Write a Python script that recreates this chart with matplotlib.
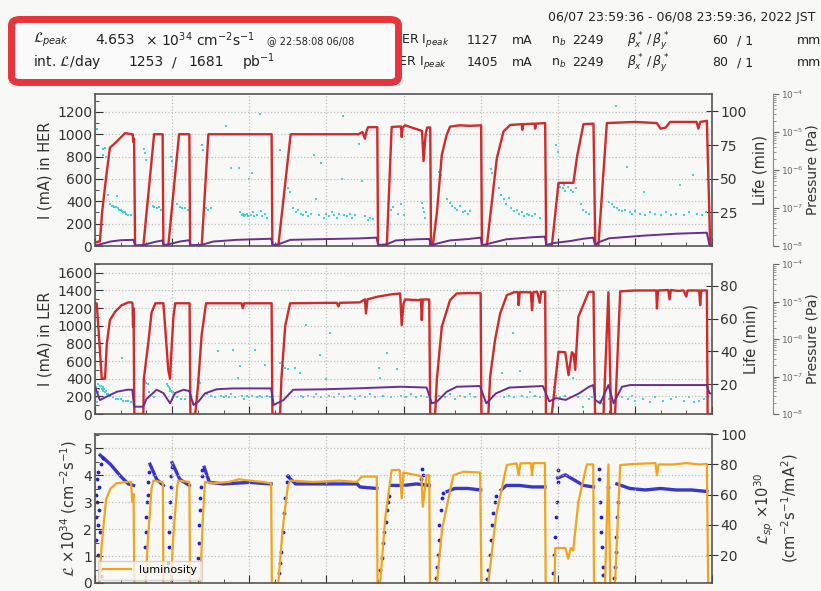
import matplotlib
matplotlib.use('Agg')
import matplotlib.pyplot as plt
import numpy as np
from matplotlib.patches import FancyBboxPatch
from matplotlib.ticker import MultipleLocator, LogLocator, NullFormatter

W, H = 821, 591
BG = '#f8f8f6'
RED = '#d12a2a'
PURPLE = '#6b2d8e'
CYAN = '#3fd2da'
BLUE = '#2222c8'
ORANGE = '#f2a41c'

# ---- HER current (hours, mA)
her_t = [0.0, 0.15, 0.19, 0.28, 0.43, 0.58, 0.78, 1.04, 1.17, 1.43, 1.47, 1.49, 1.52, 1.56,
         1.88, 2.30, 2.63, 2.66, 2.85, 3.27, 3.67, 3.70, 4.15, 4.41, 6.87, 6.90,
         7.13, 7.61, 10.25, 10.40, 10.50, 10.55, 10.62, 10.98, 11.01,
         11.35, 11.54, 11.90, 11.93, 11.97, 12.06, 12.58, 12.72, 12.78, 12.86, 12.92, 13.04, 13.07,
         13.14, 13.30, 13.49, 13.68, 13.81, 14.2, 14.6, 15.02, 15.05,
         15.24, 15.44, 15.63, 15.89, 16.15, 16.6, 16.62, 16.66, 17.1, 17.12, 17.16, 17.51, 17.55,
         17.77, 18.03, 18.61, 18.75, 19.0, 19.39, 19.46,
         19.58, 19.91, 21.0, 21.85, 22.0, 22.2, 22.37, 23.4, 23.47, 23.54, 23.8, 23.93, 24.0]
her_i = [30, 40, 40, 310, 610, 880, 920, 980, 1010, 1000, 1000, 930, 960, 0,
         0, 1000, 1000, 0, 0, 1000, 1000, 0, 0, 1000, 1000, 0,
         0, 1000, 1000, 1020, 960, 1020, 1063, 1063, 0,
         0, 1065, 1070, 975, 1060, 1080, 1040, 1030, 760, 1000, 1060, 1060, 0,
         0, 300, 815, 995, 1068, 1080, 1075, 1080, 0,
         0, 400, 785, 1025, 1083, 1090, 1040, 1090, 1095, 1050, 1095, 1100, 0,
         0, 565, 565, 800, 1090, 1095, 0,
         0, 1100, 1110, 1100, 1050, 1060, 1110, 1110, 1050, 1110, 1120, 0, 0]

her_p_t = [0.0, 0.2, 0.6, 1.0, 1.5, 1.56, 1.9, 2.3, 2.63, 2.68, 2.85, 3.3, 3.67, 3.72, 4.15, 4.6, 5.5, 6.85, 6.92,
           7.13, 7.6, 9.0, 10.3, 10.95, 11.02, 11.35, 11.7, 12.5, 13.0, 13.08,
           13.2, 13.8, 14.5, 15.0, 15.06, 15.3, 16.0, 17.0, 17.5, 17.56, 17.8, 18.5, 19.0, 19.38, 19.45,
           19.6, 20.0, 21.3, 22.6, 23.8, 23.9, 24.0]
her_p = [5, 15, 40, 52, 55, 5, 10, 35, 50, 8, 15, 40, 52, 8, 10, 40, 55, 65, 8,
         15, 55, 62, 68, 75, 9, 15, 50, 60, 63, 5,
         15, 50, 62, 75, 8, 20, 60, 78, 84, 8, 25, 45, 65, 75, 9,
         35, 69, 92, 110, 119, 10, 10]

# HER lifetime points (hours, min)
her_c_t = [0.08, 0.3, 0.33, 0.38, 0.42, 0.5, 0.6, 0.65, 0.7, 0.75, 0.8, 0.85, 0.9, 0.95, 1.0, 1.05, 1.1, 1.15, 1.2, 1.3, 1.4,
           1.92, 1.95, 2.0, 2.25, 2.3, 2.4, 2.5, 2.55,
           2.95, 3.0, 3.1, 3.2, 3.3, 3.4, 3.5, 3.6,
           4.15, 4.2, 4.3, 4.4, 4.5,
           5.1, 5.3, 5.6, 5.65, 5.7, 5.75, 5.8, 5.85, 5.9, 5.95, 6.0, 6.05, 6.1, 6.15, 6.2, 6.3, 6.4, 6.45, 6.5, 6.6, 6.7,
           7.2, 7.5, 7.6, 7.7, 7.8, 7.9, 8.0, 8.1, 8.2, 8.3, 8.4, 8.5, 8.6, 8.7, 8.8, 8.9, 9.0, 9.1, 9.2, 9.3, 9.4, 9.5,
           9.6, 9.66, 9.7, 9.8, 9.9, 10.0, 10.1, 10.25, 10.38, 10.5, 10.6, 10.7, 10.8,
           11.4, 11.5, 11.6, 11.8, 11.9, 12.0, 12.72, 12.75, 12.8, 12.85,
           13.4, 13.45, 13.7, 13.8, 13.9, 14.0, 14.1, 14.2, 14.3, 14.4, 14.5, 14.6,
           15.4, 15.45, 15.7, 15.8, 15.9, 16.0, 16.1, 16.2, 16.3, 16.4, 16.5, 16.6, 16.7, 16.8, 16.9, 17.0, 17.1, 17.3,
           17.95, 18.0, 18.05, 18.1, 18.15, 18.2, 18.25, 18.3, 18.4, 18.5, 18.6, 18.7,
           18.9, 19.0, 19.1, 19.2,
           20.0, 20.1, 20.2, 20.25, 20.3, 20.4, 20.5, 20.6, 20.69, 20.8, 20.9, 21.0, 21.2, 21.34, 21.4, 21.6,
           21.8, 22.0, 22.2, 22.4, 22.6, 22.76, 22.9, 23.1, 23.28, 23.4, 23.6, 23.75]
her_c_v = [87, 72, 68, 73, 66, 38, 31, 30, 30, 29, 29, 37, 28, 27, 27, 26, 25, 25, 24, 23, 23,
           72, 69, 64, 30, 29, 28, 29, 27,
           66, 63, 54, 31, 29, 28, 28, 27,
           75, 71, 28, 27, 28,
           89, 58, 58, 25, 23, 24, 22, 23, 24, 22, 50, 23, 54, 25, 22, 23, 98, 26, 22, 24, 21,
           71, 43, 40, 28, 25, 27, 24, 23, 25, 22, 24, 68, 35, 23, 62, 21, 24, 22, 25, 23, 21, 24,
           50, 97, 23, 22, 24, 21, 23, 76, 48, 22, 19, 21, 20,
           31, 27, 29, 24, 31, 23, 32, 28, 25, 21,
           55, 53, 35, 32, 30, 28, 27, 30, 25, 26, 24, 26,
           57, 54, 43, 38, 35, 31, 36, 28, 26, 27, 24, 25, 22, 24, 23, 22, 24, 21,
           75, 70, 46, 44, 47, 43, 45, 41, 44, 42, 40, 43,
           31, 27, 25, 24,
           33, 31, 29, 104, 28, 27, 26, 27, 59, 25, 24, 26, 24, 40, 23, 25,
           24, 23, 25, 23, 24, 45, 23, 25, 53, 24, 23, 25]

# ---- LER current (hours, mA)
ler_t = [0.0, 0.07, 0.19, 0.26, 0.39, 0.46, 0.58, 0.78, 1.04, 1.3, 1.43, 1.46, 1.48, 1.5, 1.53,
         1.88, 1.9, 2.07, 2.2, 2.35, 2.66, 2.75, 2.85, 2.92, 2.97, 3.05, 3.12, 3.68, 3.71,
         3.9, 4.0, 4.15, 4.32, 5.7, 5.75, 5.8, 6.87, 6.9,
         7.2, 7.25, 7.4, 7.59, 9.4, 9.47, 9.52, 10.3, 10.5, 10.54, 10.6, 11.0, 11.5, 11.87, 11.93, 12.0,
         12.06, 12.6, 12.68, 12.71, 12.75, 13.0, 13.04,
         13.23, 13.3, 13.49, 13.81, 14.07, 14.5, 15.0, 15.03,
         15.3, 15.37, 15.56, 15.76, 16.02, 16.3, 16.45, 16.48, 16.52, 16.95, 17.0, 17.05, 17.2, 17.3, 17.35, 17.51, 17.54,
         17.77, 18.03, 18.29, 18.42, 18.55, 18.62, 18.68, 18.8, 19.07, 19.2, 19.39, 19.45,
         19.78, 19.97, 20.07, 20.23, 20.43, 21.0, 21.83, 21.86, 21.9, 22.3, 22.35, 22.4, 22.7, 22.9,
         23.0, 23.05, 23.5, 23.54, 23.58, 23.8, 23.83, 24.0]
ler_i = [1260, 1250, 724, 404, 400, 800, 1064, 1158, 1234, 1265, 1265, 1250, 990, 1200, 0,
         0, 400, 800, 1150, 1255, 1255, 900, 500, 400, 700, 1100, 1255, 1255, 0,
         0, 300, 900, 1255, 1255, 1200, 1255, 1255, 0,
         0, 400, 1000, 1255, 1260, 1220, 1260, 1265, 1300, 1140, 1300, 1330, 1355, 1366, 1007, 1250,
         1298, 1290, 1298, 1064, 1298, 1298, 0,
         0, 400, 990, 1290, 1366, 1370, 1370, 0,
         0, 422, 838, 1140, 1347, 1380, 1380, 1234, 1380, 1380, 1177, 1380, 1385, 1260, 1385, 1385, 0,
         0, 705, 700, 441, 700, 680, 500, 1101, 1290, 1384, 1384, 0,
         0, 1380, 0, 0, 1390, 1400, 1400, 1196, 1400, 1405, 1300, 1405, 1395, 1400,
         1330, 1400, 1400, 1234, 1400, 1400, 0, 0]

ler_p_t = [0.0, 0.19, 0.45, 0.85, 1.25, 1.45, 1.52, 1.88, 2.0, 2.4, 2.66, 2.92, 3.11, 3.44, 3.67, 3.83,
           4.02, 4.28, 4.73, 5.38, 6.85, 6.95, 7.33, 7.71,
           8.9, 10.2, 11.9, 12.9, 13.1, 13.3, 13.68, 14.07, 14.97, 15.22, 15.6, 16.12, 17.42, 17.67,
           17.93, 18.31, 18.83, 19.22, 19.38, 19.46, 19.65, 19.97, 20.17, 20.5, 20.82, 23.8, 23.9, 24.0]
ler_p = [309, 158, 196, 252, 275, 275, 83, 83, 170, 275, 237, 121, 237, 275, 260, 102,
         140, 234, 280, 290, 290, 102, 158, 275,
         280, 291, 309, 300, 121, 140, 252, 309, 317, 121, 234, 300, 317, 143,
         180, 160, 234, 309, 328, 158, 121, 328, 121, 309, 328, 328, 234, 234]

# LER lifetime points (hours, min)
ler_c_t = [0.02, 0.05, 0.08, 0.1, 0.12, 0.15, 0.2, 0.25, 0.28, 0.3, 0.33, 0.36, 0.4, 0.43, 0.46, 0.5,
           0.55, 0.6, 0.7, 0.8, 0.9, 1.04, 1.0, 1.1, 1.2, 1.3, 1.4,
           1.95, 2.0, 2.05, 2.1, 2.3,
           2.8, 2.83, 2.86, 2.9, 2.93, 2.96, 3.0, 3.05, 3.1, 3.2, 3.35, 3.5,
           4.0, 4.05, 4.1, 4.35, 4.5, 4.65, 4.8, 4.9, 5.0, 5.1, 5.2, 5.3, 5.38, 5.45, 5.57, 5.64,
           5.7, 5.8, 5.9, 6.0, 6.1, 6.22, 6.3, 6.4, 6.5, 6.61, 6.7, 6.8,
           7.2, 7.3, 7.4, 7.5, 7.78, 7.96, 8.0, 8.1, 8.2, 8.3, 8.5, 8.6, 8.75, 8.8, 8.99, 9.1,
           9.14, 9.3, 9.5, 9.7, 9.9, 10.1, 10.3, 10.5, 10.7, 10.9, 11.03, 11.1, 11.2, 11.35,
           11.5, 11.74, 11.9, 12.1, 12.3, 12.5, 12.7, 12.9,
           13.4, 13.6, 13.8, 14.0, 14.2, 14.4, 14.6, 14.8,
           15.5, 15.82, 15.9, 16.1, 16.25, 16.3, 16.54, 16.6, 16.8, 16.93, 17.1, 17.3,
           17.84, 17.88, 17.92, 18.1, 18.3, 18.61, 18.8, 19.0,
           19.2, 19.33, 19.65, 19.7, 19.75, 20.0, 20.5, 20.75, 20.87, 21.0, 21.3, 21.6, 21.8,
           22.1, 22.4, 22.6, 22.9, 23.1, 23.3, 23.5, 23.7]
ler_c_v = [18, 12, 9, 15, 20, 17, 19, 19, 17, 18, 16, 17, 15, 16, 14, 14,
           13, 13, 12, 11, 11, 36, 11, 10, 10, 10, 9,
           22, 21, 20, 15, 12,
           20, 19, 18, 17, 16, 16, 15, 15, 14, 12, 11, 11,
           23, 22, 21, 14, 13, 12, 40, 13, 12, 13, 12, 14, 41, 12, 24, 31,
           13, 11, 13, 12, 13, 41, 12, 13, 12, 32, 13, 12,
           33, 31, 30, 29, 30, 27, 13, 12, 56, 13, 12, 14, 38, 12, 23, 13,
           51, 12, 14, 12, 13, 11, 13, 12, 14, 12, 30, 24, 13, 39,
           12, 29, 13, 12, 14, 12, 13, 12,
           13, 12, 14, 11, 13, 12, 14, 12,
           13, 27, 12, 13, 51, 12, 28, 13, 12, 15, 13, 12,
           18, 15, 13, 12, 13, 24, 12, 6,
           11, 12, 10, 9, 8, 11, 12, 11, 13, 10, 11, 9, 12,
           10, 11, 12, 10, 12, 9, 10, 11]

# ---- luminosity (hours, 1e34 cm^-2 s^-1)
lum_t = [0.0, 0.17, 0.25, 0.43, 0.6, 0.83, 1.2, 1.4, 1.45, 1.5, 1.53,
         1.97, 2.05, 2.2, 2.27, 2.6, 2.64, 2.66,
         2.95, 3.05, 3.2, 3.24, 3.67, 3.7,
         4.09, 4.2, 4.28, 4.6, 5.2, 5.6, 6.0, 6.5, 6.85, 6.88,
         7.13, 7.3, 7.5, 7.6, 8.5, 9.5, 10.18, 10.38, 10.96, 10.99,
         11.09, 11.3, 11.54, 11.85, 11.93, 12.0, 12.52, 12.7, 12.75, 12.9, 13.0, 13.03,
         13.3, 13.5, 13.94, 14.33, 14.98, 15.03,
         15.3, 15.6, 16.02, 16.4, 16.48, 16.55, 16.95, 17.0, 17.05, 17.5, 17.53,
         17.88, 17.9, 18.3, 18.41, 18.5, 18.6, 18.8, 19.13, 19.38, 19.41,
         19.84, 19.97, 20.04, 20.23, 20.43, 21.0, 21.8, 21.86, 21.92, 22.5, 23.0, 23.5, 23.8, 23.85, 24.0]
lum_v = [0, 0, 1.3, 3.1, 3.5, 3.7, 3.75, 3.75, 3.0, 3.3, 0,
         0, 1.5, 3.5, 3.8, 3.75, 3.7, 0,
         0, 1.8, 3.6, 3.8, 3.75, 0,
         0, 2.5, 3.75, 3.7, 3.75, 3.85, 3.8, 3.75, 3.7, 0,
         0, 2.0, 3.6, 3.8, 3.75, 3.8, 3.75, 3.95, 3.95, 0,
         0, 2.5, 4.19, 4.2, 3.14, 4.1, 4.0, 3.95, 2.83, 4.0, 4.0, 0,
         0, 2.0, 4.0, 4.13, 4.1, 0,
         0, 2.5, 4.38, 4.44, 4.0, 4.44, 4.45, 4.0, 4.45, 4.45, 0,
         0, 1.29, 1.3, 0.9, 1.3, 1.2, 3.0, 4.4, 4.4, 0,
         0, 4.4, 0, 0, 4.38, 4.42, 4.45, 4.0, 4.4, 4.4, 4.45, 4.4, 4.42, 0, 0]

# specific luminosity plateaus (hours, 1e30 cm^-2 s^-1 / mA^2), nan = gap between fills
csp_t = [0.2, 0.6, 1.0, 1.3, 1.5, np.nan,
         2.14, 2.4, 2.66, np.nan,
         3.0, 3.3, 3.67, np.nan,
         4.25, 4.45, 5.0, 6.0, 6.85, np.nan,
         7.5, 7.8, 9.0, 10.2, 10.3, 10.96, np.nan,
         11.5, 12.0, 12.5, 13.0, np.nan,
         13.7, 14.0, 14.5, 15.0, np.nan,
         15.8, 16.0, 16.5, 17.0, 17.5, np.nan,
         18.0, 18.3, 18.6, 18.8, 19.0, 19.39, np.nan,
         20.3, 20.8, 21.4, 22.0, 22.6, 23.2, 23.8]
csp_v = [86, 80, 72, 67, 66, np.nan,
         80, 70, 66, np.nan,
         81, 70, 66, np.nan,
         78, 68, 67, 68, 67, np.nan,
         72, 67, 67, 67, 65, 64, np.nan,
         66, 66, 67, 66, np.nan,
         62, 64, 64, 63, np.nan,
         63, 66, 66, 65, 65, np.nan,
         71, 73, 70, 68, 66, 65, np.nan,
         67, 64, 63, 64, 63, 63, 62]

# specific luminosity while injecting (scattered dots)
csp_d_t = [0.02, 0.04, 0.05, 0.07, 0.08, 0.1, 0.12, 0.13, 0.15, 0.17, 0.18, 0.2, 0.22, 0.25, 0.3,
           1.95, 1.98, 2.0, 2.03, 2.05, 2.08, 2.1,
           2.84, 2.86, 2.88, 2.9, 2.92, 2.94, 2.96, 2.98,
           4.0, 4.03, 4.05, 4.08, 4.1, 4.12, 4.15, 4.18,
           7.15, 7.2, 7.25, 7.3, 7.35, 7.4, 7.45, 7.5,
           11.1, 11.15, 11.2, 11.25, 11.3, 11.35, 11.4, 11.45, 12.7, 12.73, 12.75,
           13.25, 13.3, 13.33, 13.37, 13.4, 13.45, 13.5, 13.55,
           15.25, 15.3, 15.35, 15.4, 15.45, 15.5, 15.55, 15.6,
           17.82, 17.86, 17.9, 17.93, 17.96, 18.0, 18.02,
           19.6, 19.62, 19.65, 19.68, 19.7, 19.72, 19.75, 19.77, 19.96,
           20.2, 20.22, 20.25, 20.28, 20.3, 20.33]
csp_d_v = [60, 45, 30, 70, 55, 40, 20, 75, 65, 50, 35, 10, 80, 6, 84,
           25, 35, 45, 55, 60, 68, 75,
           15, 25, 35, 45, 55, 65, 72, 78,
           18, 28, 40, 50, 58, 65, 72, 76,
           8, 15, 22, 35, 48, 58, 68, 72,
           10, 18, 28, 35, 42, 50, 55, 59, 70, 77, 73,
           5, 12, 20, 30, 40, 50, 58, 61,
           4, 10, 20, 30, 40, 48, 55, 59,
           8, 20, 32, 45, 55, 68, 76,
           77, 70, 55, 45, 35, 25, 12, 7, 65,
           5, 12, 22, 32, 45, 55]

fig = plt.figure(figsize=(W / 100, H / 100), dpi=100, facecolor=BG)


def panel(top, bottom):
    return fig.add_axes([95 / W, 1 - bottom / H, 617 / W, (bottom - top) / H])


def style_main(ax, ymax, major, minor, ylabel):
    ax.set_xlim(0, 24)
    ax.set_ylim(0, ymax)
    ax.xaxis.set_major_locator(MultipleLocator(3))
    ax.xaxis.set_minor_locator(MultipleLocator(1))
    ax.yaxis.set_major_locator(MultipleLocator(major))
    ax.yaxis.set_minor_locator(MultipleLocator(minor))
    ax.tick_params(which='both', direction='in', labelbottom=False, labelsize=10,
                   colors='#333', pad=2)
    ax.tick_params(which='major', length=6)
    ax.tick_params(which='minor', length=3)
    ax.grid(which='major', color='#bdbdbd', linestyle=':', linewidth=0.9)
    for s in ax.spines.values():
        s.set_color('#555')
        s.set_linewidth(1.2)
    ax.patch.set_visible(False)
    ax.set_ylabel(ylabel, fontsize=10.5, color='#333', labelpad=3)


def life_axis(ax, lo, hi, ticks, label):
    t = ax.twinx()
    t.set_ylim(lo, hi)
    t.set_yticks(ticks)
    t.tick_params(axis='y', direction='inout', length=8, labelsize=10, colors='#333', pad=2)
    t.patch.set_visible(False)
    t.set_ylabel(label, fontsize=10.5, color='#333', labelpad=4)
    for s in t.spines.values():
        s.set_visible(False)
    ax.set_zorder(t.get_zorder() + 1)
    return t


def pressure_axis(ax):
    p = ax.twinx()
    p.spines['right'].set_position(('axes', (773 - 95) / 617))
    for k in ('left', 'top', 'bottom'):
        p.spines[k].set_visible(False)
    p.spines['right'].set_color('#888')
    p.set_yscale('log')
    p.set_ylim(1e-8, 1e-4)
    p.yaxis.set_major_locator(LogLocator(base=10, numticks=10))
    p.yaxis.set_minor_locator(LogLocator(base=10, subs=np.arange(2, 10), numticks=10))
    p.yaxis.set_minor_formatter(NullFormatter())
    p.tick_params(axis='y', which='major', labelsize=6.5, colors='#666', length=4, pad=2)
    p.tick_params(axis='y', which='minor', length=2, colors='#888')
    p.set_ylabel('Pressure (Pa)', fontsize=10, color='#333', labelpad=1)
    p.patch.set_visible(False)
    return p


# ---- HER
ax1 = panel(94, 246)
style_main(ax1, 1360, 200, 100, 'I (mA) in HER')
l1 = life_axis(ax1, 0, 113, [25, 50, 75, 100], 'Life (min)')
pressure_axis(ax1)
l1.plot(her_c_t, her_c_v, 's', color=CYAN, ms=1.7, mew=0)
ax1.plot(her_t, her_i, color=RED, lw=1.7)
ax1.plot(her_p_t, her_p, color=PURPLE, lw=1.4)

# ---- LER
ax2 = panel(264, 414)
style_main(ax2, 1700, 200, 100, 'I (mA) in LER')
l2 = life_axis(ax2, 1.8, 93.4, [20, 40, 60, 80], 'Life (min)')
pressure_axis(ax2)
l2.plot(ler_c_t, ler_c_v, 's', color=CYAN, ms=1.7, mew=0)
ax2.plot(ler_t, ler_i, color=RED, lw=1.7)
ax2.plot(ler_p_t, ler_p, color=PURPLE, lw=1.4)

# ---- luminosity
ax3 = panel(434, 583)
style_main(ax3, 5.53, 1, 0.5, r'$\mathcal{L}$ ×10$^{34}$ (cm$^{-2}$s$^{-1}$)')
l3 = life_axis(ax3, 1.5, 100, [20, 40, 60, 80, 100],
               '$\\mathcal{L}_{sp}$ ×10$^{30}$\n(cm$^{-2}$s$^{-1}$/mA$^2$)')
l3.plot(csp_t, csp_v, color=BLUE, lw=2.4, alpha=0.9)
l3.plot(csp_d_t, csp_d_v, '.', color=BLUE, ms=3.5)
ax3.plot(lum_t, lum_v, color=ORANGE, lw=1.6, label='luminosity')
leg = ax3.legend(loc='lower left', fontsize=8, borderaxespad=0.3, handlelength=2.5,
                 fancybox=False)
leg.get_frame().set_edgecolor('#cccccc')
leg.get_frame().set_facecolor(BG)


# ---- header
def txt(x, y, s, size=9, **kw):
    return fig.text(x / W, 1 - y / H, s, fontsize=size, va='center', color='#222', **kw)


txt(815, 18, '06/07 23:59:36 - 06/08 23:59:36, 2022 JST', ha='right')
for y, name, cur, beta in [(41, 'HER', '1127', '60'), (63, 'LER', '1405', '80')]:
    txt(392, y, name + ' I$_{peak}$')
    txt(467, y, cur)
    txt(512, y, 'mA')
    txt(551, y, 'n$_b$')
    txt(572, y, '2249')
    txt(627, y, r'$\beta^*_x\,/\,\beta^*_y$')
    txt(712, y, beta)
    txt(737, y, '/ 1')
    txt(797, y, 'mm')

box = FancyBboxPatch((11.5 / W, 1 - 82.5 / H), 387 / W, 63 / H,
                     boxstyle='round,pad=0,rounding_size=0.01', transform=fig.transFigure,
                     facecolor='#fbfbfb', edgecolor='#e8343a', linewidth=5, zorder=5)
fig.patches.append(box)

hd = dict(zorder=6)
txt(33, 40, r'$\mathcal{L}_{peak}$', 10, **hd)
txt(95, 40, '4.653', 10, **hd)
txt(145, 40, r'× 10$^{34}$ cm$^{-2}$s$^{-1}$', 10, **hd)
txt(267, 41, '@ 22:58:08 06/08', 7, **hd)
txt(33, 62, r'int. $\mathcal{L}$/day', 10, **hd)
txt(128, 62, '1253', 10, **hd)
txt(172, 62, '/', 10, **hd)
txt(188, 62, '1681', 10, **hd)
txt(242, 62, 'pb$^{-1}$', 10, **hd)

fig.savefig('out.png', dpi=100, facecolor=BG)
